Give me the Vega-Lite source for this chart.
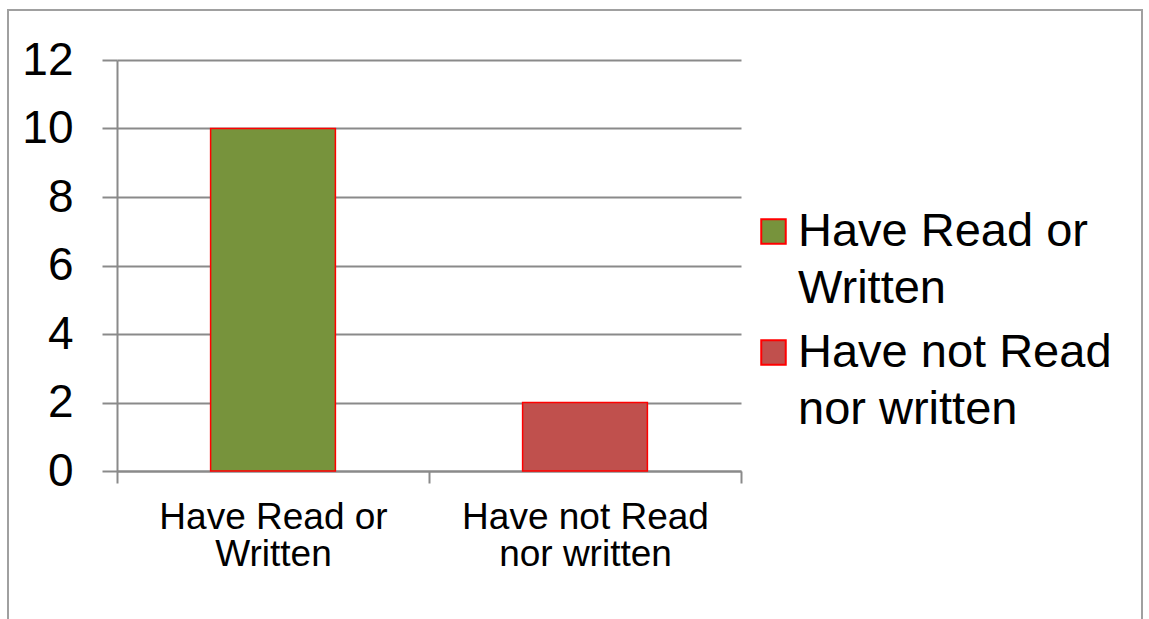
{
  "$schema": "https://vega.github.io/schema/vega-lite/v6.json",
  "width": 1134,
  "height": 610,
  "autosize": {"type": "none"},
  "padding": {"left": 8, "top": 10, "right": 7, "bottom": -1},
  "background": "white",
  "config": {
    "view": {"stroke": "#a0a0a0", "strokeWidth": 2},
    "font": "Liberation Sans",
    "style": {"guide-label": {"lineHeight": 57}}
  },
  "data": {
    "values": [
      {"category": "Have Read or Written", "count": 10},
      {"category": "Have not Read nor written", "count": 2}
    ]
  },
  "mark": {"type": "bar", "width": {"band": 0.4}, "stroke": "#ff0000", "strokeWidth": 1.5},
  "encoding": {
    "x": {
      "field": "category",
      "type": "nominal",
      "sort": null,
      "scale": {"range": [109, 733], "paddingInner": 0, "paddingOuter": 0},
      "axis": {
        "title": null,
        "orient": "bottom",
        "offset": -149,
        "tickBand": "extent",
        "tickSize": 12,
        "tickColor": "#8a8a8a",
        "tickWidth": 2,
        "domainColor": "#8a8a8a",
        "domainWidth": 2,
        "labelFontSize": 37,
        "labelColor": "black",
        "labelPadding": 16,
        "labelLineHeight": 37,
        "labelAngle": 0,
        "labelLimit": 400,
        "labelExpr": "datum.label == 'Have Read or Written' ? ['Have Read or', 'Written'] : datum.label == 'Have not Read nor written' ? ['Have not Read', 'nor written'] : ''"
      }
    },
    "y": {
      "field": "count",
      "type": "quantitative",
      "scale": {"domain": [0, 12], "range": [461, 50], "nice": false},
      "axis": {
        "title": null,
        "offset": -109,
        "values": [0, 2, 4, 6, 8, 10, 12],
        "tickSize": 15,
        "tickColor": "#8a8a8a",
        "tickWidth": 2,
        "domainColor": "#8a8a8a",
        "domainWidth": 2,
        "grid": true,
        "gridColor": "#8a8a8a",
        "gridWidth": 2,
        "labelFontSize": 46,
        "labelColor": "black",
        "labelPadding": 29
      }
    },
    "color": {
      "field": "category",
      "type": "nominal",
      "sort": null,
      "scale": {"range": ["#77933C", "#C0504D"]},
      "legend": {
        "title": null,
        "orient": "none",
        "legendX": 742,
        "legendY": 198,
        "padding": 0,
        "symbolType": "square",
        "symbolSize": 600,
        "symbolStrokeColor": "#ff0000",
        "symbolStrokeWidth": 2,
        "symbolOpacity": 1,
        "labelFontSize": 47,
        "labelColor": "black",
        "labelOffset": 1,
        "labelLimit": 400,
        "rowPadding": 16,
        "labelExpr": "datum.label == 'Have Read or Written' ? ['Have Read or', 'Written'] : ['Have not Read', 'nor written']"
      }
    }
  }
}
